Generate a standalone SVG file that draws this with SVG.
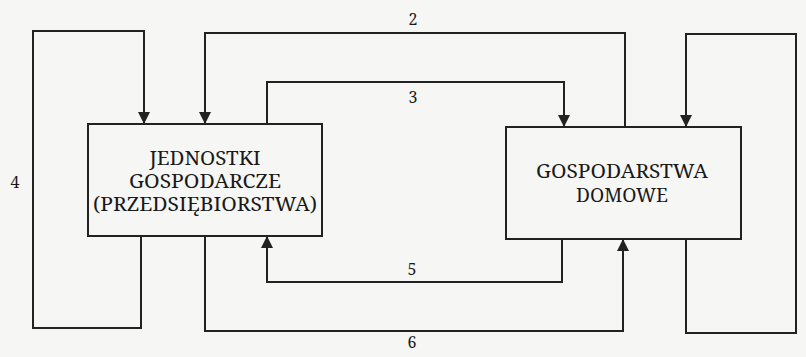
<svg xmlns="http://www.w3.org/2000/svg" width="806" height="357" viewBox="0 0 806 357">
  <style>
    .box { fill: none; stroke: #222; stroke-width: 2; }
    .conn { fill: none; stroke: #222; stroke-width: 2; marker-end: url(#arr); }
    .lbl { font-family: 'Noto Serif', 'DejaVu Serif', serif; font-size: 19px; fill: #1a1a1a; text-anchor: middle; }
    .num { font-family: 'Noto Serif', 'DejaVu Serif', serif; font-size: 16px; fill: #1a1a1a; text-anchor: middle; }
  </style>
  <defs>
    <marker id="arr" markerUnits="userSpaceOnUse" markerWidth="14" markerHeight="14" refX="12" refY="6" orient="auto">
      <path d="M0,0 L12,6 L0,12 Z" fill="#222"/>
    </marker>
  </defs>
  <rect width="806" height="357" fill="#f6f6f4"/>
  <g id="connectors">
    <path class="conn" d="M141,236 V328 H33 V31 H144 V124"/>
    <path class="conn" d="M625,127 V33 H205 V124"/>
    <path class="conn" d="M267,124 V82 H564 V127"/>
    <path class="conn" d="M686,239 V333 H796 V34 H686 V127"/>
    <path class="conn" d="M562,239 V282 H267 V236"/>
    <path class="conn" d="M205,236 V331 H623 V239"/>
    <text class="num" x="413" y="25">2</text>
    <text class="num" x="413" y="103">3</text>
    <text class="num" x="15" y="188">4</text>
    <text class="num" x="412" y="275">5</text>
    <text class="num" x="412" y="348">6</text>
  </g>
  <g id="jednostki">
    <rect class="box" x="88" y="124" width="234" height="112"/>
    <text class="lbl" x="205" y="165" textLength="111" lengthAdjust="spacingAndGlyphs">JEDNOSTKI</text>
    <text class="lbl" x="205" y="188" textLength="152" lengthAdjust="spacingAndGlyphs">GOSPODARCZE</text>
    <text class="lbl" x="205" y="211" textLength="224" lengthAdjust="spacingAndGlyphs">(PRZEDSIĘBIORSTWA)</text>
  </g>
  <g id="gospodarstwa">
    <rect class="box" x="506" y="127" width="235" height="112"/>
    <text class="lbl" x="622" y="178" textLength="172" lengthAdjust="spacingAndGlyphs">GOSPODARSTWA</text>
    <text class="lbl" x="622" y="202" textLength="92" lengthAdjust="spacingAndGlyphs">DOMOWE</text>
  </g>
</svg>
